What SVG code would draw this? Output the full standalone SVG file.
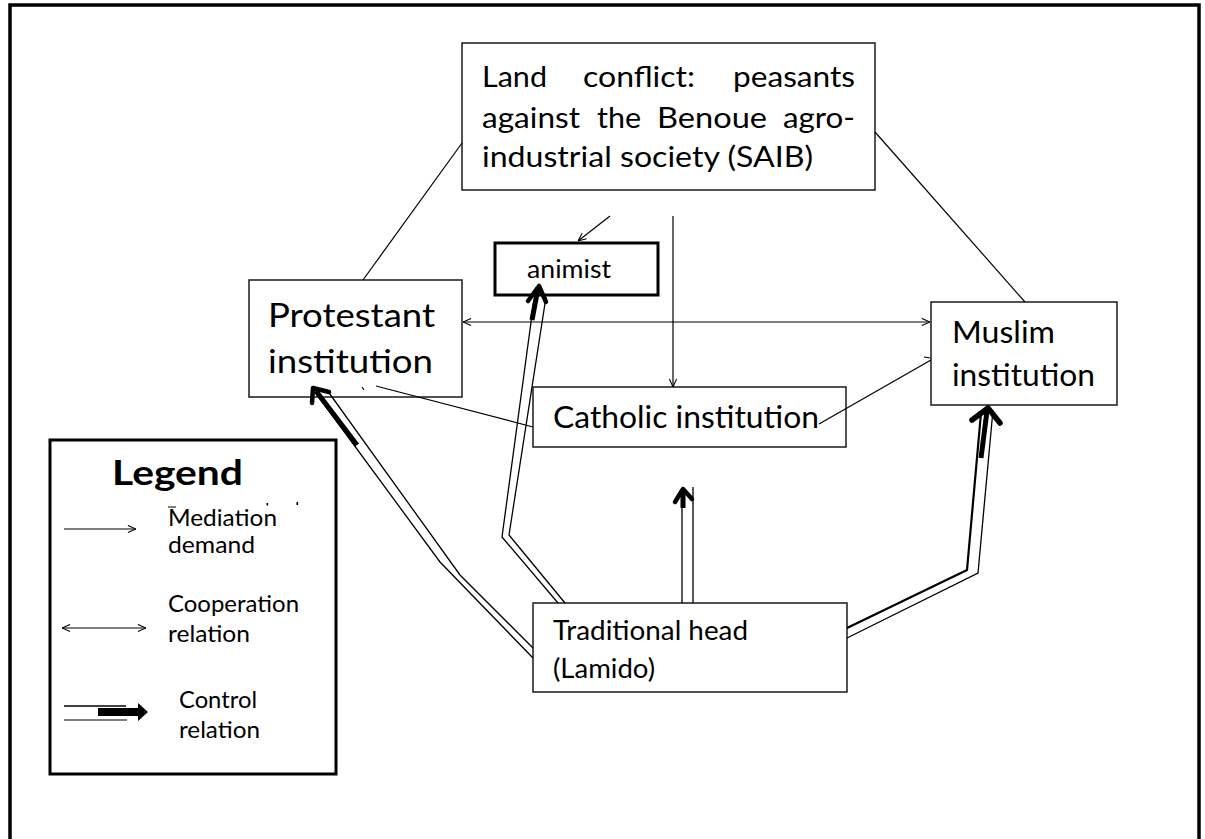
<svg xmlns="http://www.w3.org/2000/svg" width="1205" height="839" viewBox="0 0 1205 839">
<style>
text{font-family:Lato,"Liberation Sans",sans-serif;fill:#000}
.box{fill:#fff;stroke:#1a1a1a;stroke-width:1.5}
.bold3{fill:#fff;stroke:#000;stroke-width:3}
.thin{fill:none;stroke:#000;stroke-width:1.2}
.ctl{fill:none;stroke:#000;stroke-width:1.3}
.ctl2{fill:none;stroke:#000;stroke-width:2.2}
.thick{fill:none;stroke:#000;stroke-width:5}
.chev{fill:none;stroke:#000;stroke-width:4.5;stroke-linecap:round;stroke-linejoin:round}
</style>
<defs>
<marker id="arr" viewBox="0 0 10 10" refX="10" refY="5" markerWidth="9" markerHeight="9" markerUnits="userSpaceOnUse" orient="auto-start-reverse">
<path d="M1,1 L10,5 L1,9" fill="none" stroke="#000" stroke-width="1.2"/>
</marker>
</defs>
<rect x="0" y="0" width="1205" height="839" fill="#fff"/>
<rect id="frame" x="10" y="5" width="1189" height="870" fill="none" stroke="#000" stroke-width="3.5"/>

<g id="conflict">
<rect class="box" x="462" y="43" width="413" height="147"/>
<text font-size="29" y="87" x="482" textLength="65" lengthAdjust="spacingAndGlyphs">Land</text>
<text font-size="29" y="87" x="583" textLength="112" lengthAdjust="spacingAndGlyphs">conflict:</text>
<text font-size="29" y="87" x="733" textLength="122" lengthAdjust="spacingAndGlyphs">peasants</text>
<text font-size="29" y="128" x="482" textLength="98" lengthAdjust="spacingAndGlyphs">against</text>
<text font-size="29" y="128" x="597" textLength="44" lengthAdjust="spacingAndGlyphs">the</text>
<text font-size="29" y="128" x="657" textLength="110" lengthAdjust="spacingAndGlyphs">Benoue</text>
<text font-size="29" y="128" x="783" textLength="72" lengthAdjust="spacingAndGlyphs">agro-</text>
<text font-size="29" y="167" x="482" textLength="331" lengthAdjust="spacingAndGlyphs">industrial society (SAIB)</text>
</g>

<g id="protestant">
<rect class="box" x="249" y="280" width="213" height="117"/>
<text font-size="33" x="268" y="327" textLength="167" lengthAdjust="spacingAndGlyphs">Protestant</text>
<text font-size="33" x="268" y="373" textLength="165" lengthAdjust="spacingAndGlyphs">institution</text>
</g>

<g id="animist">
<rect class="bold3" x="495" y="243" width="163" height="52"/>
<text font-size="25" x="527" y="278" textLength="84" lengthAdjust="spacingAndGlyphs">animist</text>
</g>

<g id="muslim">
<rect class="box" x="931" y="302" width="186" height="103"/>
<text font-size="31" x="952" y="343" textLength="103" lengthAdjust="spacingAndGlyphs">Muslim</text>
<text font-size="31" x="952" y="386" textLength="143" lengthAdjust="spacingAndGlyphs">institution</text>
</g>

<g id="catholic">
<rect class="box" x="533" y="387" width="313" height="60"/>
<text font-size="30" x="553" y="428" textLength="266" lengthAdjust="spacingAndGlyphs">Catholic institution</text>
</g>

<g id="traditional">
<rect class="box" x="533" y="603" width="314" height="89"/>
<text font-size="27" x="553" y="640" textLength="195" lengthAdjust="spacingAndGlyphs">Traditional head</text>
<text font-size="27" x="553" y="678" textLength="102" lengthAdjust="spacingAndGlyphs">(Lamido)</text>
</g>

<g id="legend">
<rect class="bold3" x="50" y="440" width="286" height="334"/>
<text font-size="34" font-weight="bold" x="112" y="485" textLength="131" lengthAdjust="spacingAndGlyphs">Legend</text>
<line class="thin" x1="64" y1="529" x2="136" y2="529" marker-end="url(#arr)"/>
<text font-size="23" x="168" y="526" textLength="109" lengthAdjust="spacingAndGlyphs">Mediation</text>
<text font-size="23" x="168" y="553" textLength="87" lengthAdjust="spacingAndGlyphs">demand</text>
<line x1="168" y1="507" x2="176" y2="507" stroke="#000" stroke-width="1"/>
<rect x="266.5" y="503" width="1.6" height="2.5" fill="#000"/>
<rect x="296.5" y="502" width="1.6" height="3" fill="#000"/>
<line class="thin" x1="62" y1="628" x2="146" y2="628" marker-start="url(#arr)" marker-end="url(#arr)"/>
<text font-size="23" x="168" y="612" textLength="131" lengthAdjust="spacingAndGlyphs">Cooperation</text>
<text font-size="23" x="168" y="642" textLength="82" lengthAdjust="spacingAndGlyphs">relation</text>
<line x1="64" y1="706" x2="126" y2="706" stroke="#000" stroke-width="1.3"/>
<line x1="64" y1="720" x2="127" y2="720" stroke="#555" stroke-width="1.3"/>
<path d="M98,708 L138,708 L138,703 L148,712 L138,721 L138,716 L98,716 Z" fill="#000"/>
<text font-size="23" x="179" y="708" textLength="78" lengthAdjust="spacingAndGlyphs">Control</text>
<text font-size="23" x="179" y="738" textLength="81" lengthAdjust="spacingAndGlyphs">relation</text>
</g>

<g id="connectors">
<line class="thin" x1="462" y1="143" x2="363" y2="280"/>
<line class="thin" x1="875" y1="132" x2="1025" y2="302"/>
<line class="thin" x1="610" y1="216" x2="578" y2="241" marker-end="url(#arr)"/>
<line class="thin" x1="673" y1="216" x2="673" y2="387" marker-end="url(#arr)"/>
<line class="thin" x1="463" y1="322" x2="930" y2="322" marker-start="url(#arr)" marker-end="url(#arr)"/>
<line class="thin" x1="819" y1="424" x2="931" y2="360"/>
<line class="thin" x1="924" y1="357" x2="930" y2="358"/>
<line class="thin" x1="376" y1="386" x2="533" y2="427"/>
<line class="thin" x1="362" y1="387" x2="364" y2="390"/>

<polyline class="ctl" points="533,658 440,562 315,392"/>
<polyline class="ctl" points="533,648 460,575 327,390"/>
<line class="thick" x1="357" y1="445" x2="316" y2="391"/>
<polyline class="chev" points="312,403 313,388 329,392"/>

<polyline class="ctl" points="558,603 502,537 534,300"/>
<polyline class="ctl" points="565,603 509,535 546,297"/>
<line class="thick" x1="532" y1="320" x2="538" y2="288"/>
<polyline class="chev" points="528,301 539,286 546,302"/>

<line class="ctl" x1="682" y1="603" x2="682" y2="505"/>
<line class="ctl" x1="693" y1="603" x2="693" y2="487"/>
<line class="thick" x1="683" y1="508" x2="683" y2="490"/>
<polyline class="chev" points="675,502 683,489 692,499"/>

<polyline class="ctl2" points="847,628 967,570 981,413"/>
<polyline class="ctl" points="847,638 978,573 993,410"/>
<line class="thick" x1="981" y1="458" x2="987" y2="411"/>
<polyline class="chev" points="972,420 988,408 1000,423" style="stroke-width:5.5"/>
</g>
</svg>
